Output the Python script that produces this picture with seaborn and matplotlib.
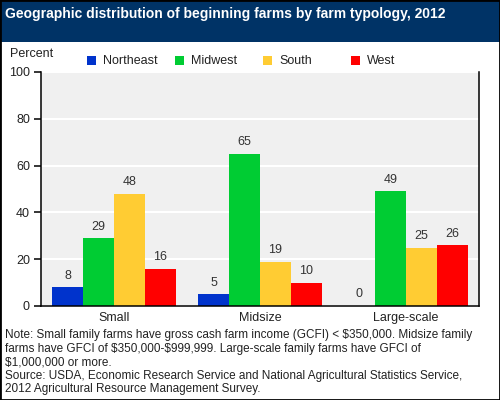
import pandas as pd
import numpy as np
import matplotlib
matplotlib.use("Agg")
import matplotlib.pyplot as plt
import seaborn as sns
from matplotlib.patches import Rectangle

# donnees
typologies = ["Small", "Midsize", "Large-scale"]
regions = ["Northeast", "Midwest", "South", "West"]
northeast = [8, 5, 0]
midwest = [29, 65, 49]
south = [48, 19, 25]
west = [16, 10, 26]
colors = ["#0033cc", "#00cc33", "#ffcc33", "#ff0000"]

title = "Geographic distribution of beginning farms by farm typology, 2012"
note = ("Note: Small family farms have gross cash farm income (GCFI) < \\$350,000. Midsize family\n"
        "farms have GFCI of \\$350,000-\\$999,999. Large-scale family farms have GFCI of\n"
        "\\$1,000,000 or more.\n"
        "Source: USDA, Economic Research Service and National Agricultural Statistics Service,\n"
        "2012 Agricultural Resource Management Survey.")

df = pd.DataFrame({
    "typology": typologies * 4,
    "region": np.repeat(regions, 3),
    "percent": northeast + midwest + south + west,
})

sns.set_style("white")
plt.rcParams["font.family"] = ["Liberation Sans", "DejaVu Sans"]
plt.rcParams["text.color"] = "#222222"

fig = plt.figure(figsize=(5, 4), dpi=100)
ax = fig.add_axes([41 / 500, 1 - 306 / 400, 438 / 500, 234 / 400])

sns.barplot(data=df, x="typology", y="percent", hue="region", hue_order=regions,
            order=typologies, palette=colors, width=0.85, saturation=1,
            errorbar=None, legend=False, linewidth=0, ax=ax)

for c in ax.containers:
    ax.bar_label(c, fmt="%.0f", padding=4, fontsize=9, color="#333333")

ax.set_facecolor("#f0f0f0")
ax.set_xlim(-0.5, 2.5)
ax.set_ylim(0, 100)
ax.set_yticks([0, 20, 40, 60, 80, 100])
ax.yaxis.grid(True, color="white", linewidth=1.5)
ax.set_axisbelow(True)
ax.set_xlabel("")
ax.set_ylabel("")
ax.set_xticks([-0.5, 0.5, 1.5, 2.5], minor=True)
ax.tick_params(axis="x", which="major", length=0, labelsize=9, pad=4, labelcolor="#222222")
ax.tick_params(axis="x", which="minor", direction="inout", length=11, width=1.1, color="black")
ax.tick_params(axis="y", length=5, width=1.1, color="black", direction="out", labelsize=9, pad=3,
               labelcolor="#222222", left=True)
for s in ["left", "bottom", "right"]:
    ax.spines[s].set_visible(True)
    ax.spines[s].set_color("black")
    ax.spines[s].set_linewidth(1.1)
ax.spines["top"].set_visible(False)

# bandeau du titre
fig.patches.append(Rectangle((0, 1 - 42 / 400), 1, 42 / 400, transform=fig.transFigure,
                             facecolor="#003366", edgecolor="none", zorder=0))
fig.text(5 / 500, 1 - 14 / 400, title, color="white", fontsize=10, fontweight="bold",
         va="center", ha="left")

fig.text(10 / 500, 1 - 54 / 400, "Percent", fontsize=9, va="center", ha="left")

# legende
for i, (r, col) in enumerate(zip(regions, colors)):
    x0 = 87 + 88 * i
    fig.patches.append(Rectangle((x0 / 500, 1 - 65 / 400), 9 / 500, 9 / 400,
                                 transform=fig.transFigure, facecolor=col, edgecolor="none"))
    fig.text((x0 + 16) / 500, 1 - 61 / 400, r, fontsize=9, va="center", ha="left")

fig.text(5 / 500, 1 - 329 / 400, note, fontsize=8.5, va="top", ha="left", linespacing=1.17)

# cadre
fig.patches.append(Rectangle((0, 0), 1, 1, transform=fig.transFigure, fill=False,
                             edgecolor="black", linewidth=2))

fig.savefig("out.png", dpi=100)
